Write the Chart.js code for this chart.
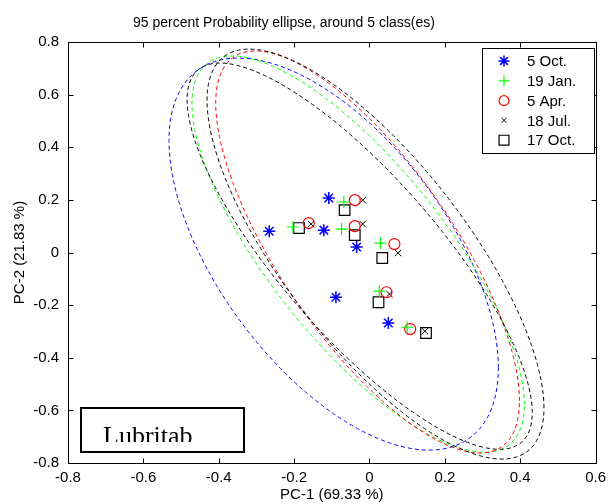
<!DOCTYPE html>
<html>
<head>
<meta charset="utf-8">
<script src="https://cdn.jsdelivr.net/npm/chart.js@4.4.1/dist/chart.umd.min.js"></script>
<style>
    html, body { margin: 0; padding: 0; background: #fff; }
    #BOX_PCA { width: 612px; height: 504px; }
</style>
</head>
<body>
<div id="BOX_PCA"><canvas id="CHART_PCA" width="612" height="504"></canvas></div>
<script>
// PCA scores per sampling date (PC-1, PC-2)
const classNames = ['5 Oct.', '19 Jan.', '5 Apr.', '18 Jul.', '17 Oct.'];

const pc1_oct5 = [-0.108, -0.266, -0.121, -0.034, -0.089, 0.050];
const pc2_oct5 = [0.207, 0.081, 0.085, 0.021, -0.170, -0.268];

const pc1_jan19 = [-0.068, -0.203, -0.074, 0.029, 0.026, 0.100];
const pc2_jan19 = [0.192, 0.097, 0.089, 0.036, -0.147, -0.284];

const pc1_apr5 = [-0.039, -0.161, -0.039, 0.066, 0.045, 0.108];
const pc2_apr5 = [0.199, 0.112, 0.100, 0.032, -0.151, -0.291];

const pc1_jul18 = [-0.018, -0.155, -0.018, 0.076, 0.053, 0.147];
const pc2_jul18 = [0.199, 0.108, 0.108, -0.002, -0.158, -0.299];

const pc1_oct17 = [-0.066, -0.187, -0.039, 0.034, 0.024, 0.150];
const pc2_oct17 = [0.161, 0.093, 0.066, -0.021, -0.189, -0.306];

// 95 % ellipses: centre, half extent along PC-1 / PC-2, correlation
const ellCx = [-0.095, -0.030, -0.005, 0.016, -0.026];
const ellCy = [-0.006, -0.006, 0.002, -0.006, -0.014];
const ellW  = [0.437, 0.441, 0.403, 0.447, 0.458];
const ellH  = [0.745, 0.753, 0.764, 0.779, 0.734];
const ellR  = [-0.58, -0.76, -0.74, -0.75, -0.81];

const xTicks = [-0.8, -0.6, -0.4, -0.2, 0, 0.2, 0.4, 0.6];
const yTicks = [-0.8, -0.6, -0.4, -0.2, 0, 0.2, 0.4, 0.6, 0.8];

const pc1List = [pc1_oct5, pc1_jan19, pc1_apr5, pc1_jul18, pc1_oct17];
const pc2List = [pc2_oct5, pc2_jan19, pc2_apr5, pc2_jul18, pc2_oct17];

const classColors = ['#0000ff', '#00ff00', '#ff0000', '#000000', '#000000'];
const markerStyle = ['star', 'cross', 'circle', 'crossRot', 'rect'];
const markerSize = [6, 6, 5.5, 4.5, 7.5];
const markerWidth = [1.5, 1.2, 1.2, 1, 1.2];

const FONT = "'Liberation Sans', Arial, sans-serif";

function getDatasets() {
    let sets = [];
    for (let i = 0; i < classNames.length; i++) {
        let pts = [];
        for (let j = 0; j < pc1List[i].length; j++) {
            pts.push({ x: pc1List[i][j], y: pc2List[i][j] });
        }
        sets.push({
            label: classNames[i],
            data: pts,
            pointStyle: markerStyle[i],
            pointRadius: markerSize[i],
            pointBorderWidth: markerWidth[i],
            pointBorderColor: classColors[i],
            pointBackgroundColor: 'rgba(0,0,0,0)',
            showLine: false
        });
    }
    return sets;
}

// dashed probability ellipses, drawn in data space through the scales
const ellipsePlugin = {
    id: 'ellipses',
    beforeDatasetsDraw(chart) {
        const ctx = chart.ctx;
        const xs = chart.scales.x, ys = chart.scales.y;
        const px0 = xs.getPixelForValue(0), py0 = ys.getPixelForValue(0);
        const kx = xs.getPixelForValue(1) - px0;
        const ky = ys.getPixelForValue(1) - py0;
        const area = chart.chartArea;

        ctx.save();
        ctx.beginPath();
        ctx.rect(area.left, area.top, area.right - area.left, area.bottom - area.top);
        ctx.clip();
        for (let i = 0; i < ellCx.length; i++) {
            const r = ellR[i];
            ctx.save();
            ctx.transform(kx, 0, 0, ky, px0, py0);
            ctx.translate(ellCx[i], ellCy[i]);
            ctx.transform(ellW[i], r * ellH[i], 0, ellH[i] * Math.sqrt(1 - r * r), 0, 0);
            ctx.beginPath();
            ctx.arc(0, 0, 1, 0, Math.PI * 2);
            ctx.restore();
            ctx.strokeStyle = classColors[i];
            ctx.lineWidth = 1;
            ctx.setLineDash([4, 3]);
            ctx.stroke();
        }
        ctx.restore();
    }
};

// box, inward ticks, title, legend and the sample tag
const framePlugin = {
    id: 'frame',
    afterDraw(chart) {
        const ctx = chart.ctx;
        const a = chart.chartArea;
        const xs = chart.scales.x, ys = chart.scales.y;
        const L = Math.round(a.left) + 0.5, R = Math.round(a.right) + 0.5;
        const T = Math.round(a.top) + 0.5, B = Math.round(a.bottom) + 0.5;

        ctx.save();
        ctx.strokeStyle = '#000';
        ctx.lineWidth = 1;
        ctx.setLineDash([]);
        ctx.strokeRect(L, T, R - L, B - T);

        ctx.beginPath();
        for (let v of xTicks) {
            const px = Math.round(xs.getPixelForValue(v)) + 0.5;
            ctx.moveTo(px, B); ctx.lineTo(px, B - 5);
            ctx.moveTo(px, T); ctx.lineTo(px, T + 5);
        }
        for (let v of yTicks) {
            const py = Math.round(ys.getPixelForValue(v)) + 0.5;
            ctx.moveTo(L, py); ctx.lineTo(L + 5, py);
            ctx.moveTo(R, py); ctx.lineTo(R - 5, py);
        }
        ctx.stroke();

        // title
        ctx.fillStyle = '#000';
        ctx.font = '14px ' + FONT;
        ctx.textAlign = 'center';
        ctx.textBaseline = 'middle';
        ctx.fillText('95 percent Probability ellipse, around 5 class(es)', 284, 23);

        // legend
        const lx = 482.5, ly = 48.5, lw = 112, lh = 105;
        ctx.fillStyle = '#fff';
        ctx.fillRect(lx, ly, lw, lh);
        ctx.strokeRect(lx, ly, lw, lh);
        ctx.font = '15px ' + FONT;
        ctx.textAlign = 'left';
        for (let i = 0; i < classNames.length; i++) {
            const y = 61 + i * 19.8;
            ctx.strokeStyle = classColors[i];
            ctx.fillStyle = 'rgba(0,0,0,0)';
            ctx.lineWidth = markerWidth[i];
            Chart.helpers.drawPoint(ctx, {
                pointStyle: markerStyle[i],
                radius: i === 3 ? 3.5 : markerSize[i] - 0.5,
                borderWidth: markerWidth[i],
                rotation: 0
            }, 504, y);
            ctx.fillStyle = '#000';
            ctx.fillText(classNames[i], 527, y + 1);
        }

        // sample tag
        ctx.fillStyle = '#fff';
        ctx.fillRect(81, 408, 163, 44);
        ctx.strokeStyle = '#000';
        ctx.lineWidth = 2;
        ctx.strokeRect(81, 408, 163, 44);
        ctx.save();
        ctx.beginPath();
        ctx.rect(82, 409, 161, 33);
        ctx.clip();
        ctx.fillStyle = '#000';
        ctx.font = "26px 'Liberation Serif', 'Times New Roman', serif";
        ctx.textBaseline = 'alphabetic';
        ctx.fillText('Lubritab', 103, 444);
        ctx.restore();

        ctx.restore();
    }
};

function createPCAChart() {
    const canvas = document.getElementById('CHART_PCA');
    new Chart(canvas.getContext('2d'), {
        type: 'scatter',
        data: { datasets: getDatasets() },
        plugins: [ellipsePlugin, framePlugin],
        options: {
            responsive: false,
            animation: false,
            devicePixelRatio: 1,
            layout: { padding: { top: 42, right: 12, bottom: 0, left: 0 } },
            plugins: {
                legend: { display: false },
                title: { display: false },
                tooltip: { enabled: false }
            },
            scales: {
                x: {
                    type: 'linear',
                    min: -0.8,
                    max: 0.6,
                    afterBuildTicks: (scale) => { scale.ticks = xTicks.map(v => ({ value: v })); },
                    afterFit: (scale) => { scale.height = 41; },
                    grid: { display: false, drawTicks: false },
                    border: { display: false },
                    ticks: {
                        color: '#000',
                        font: { family: FONT, size: 15 },
                        padding: 6,
                        maxRotation: 0,
                        autoSkip: false
                    },
                    title: {
                        display: true,
                        text: 'PC-1 (69.33 %)',
                        color: '#000',
                        font: { family: FONT, size: 15, lineHeight: 1.2 },
                        padding: 0
                    }
                },
                y: {
                    type: 'linear',
                    min: -0.8,
                    max: 0.8,
                    afterBuildTicks: (scale) => { scale.ticks = yTicks.map(v => ({ value: v })); },
                    afterFit: (scale) => { scale.width = 68; },
                    grid: { display: false, drawTicks: false },
                    border: { display: false },
                    ticks: {
                        color: '#000',
                        font: { family: FONT, size: 15 },
                        padding: 9,
                        autoSkip: false
                    },
                    title: {
                        display: true,
                        text: 'PC-2 (21.83 %)',
                        color: '#000',
                        font: { family: FONT, size: 15, lineHeight: 1.2 },
                        padding: { top: 11, bottom: 0 }
                    }
                }
            }
        }
    });
}

createPCAChart();
</script>
</body>
</html>
